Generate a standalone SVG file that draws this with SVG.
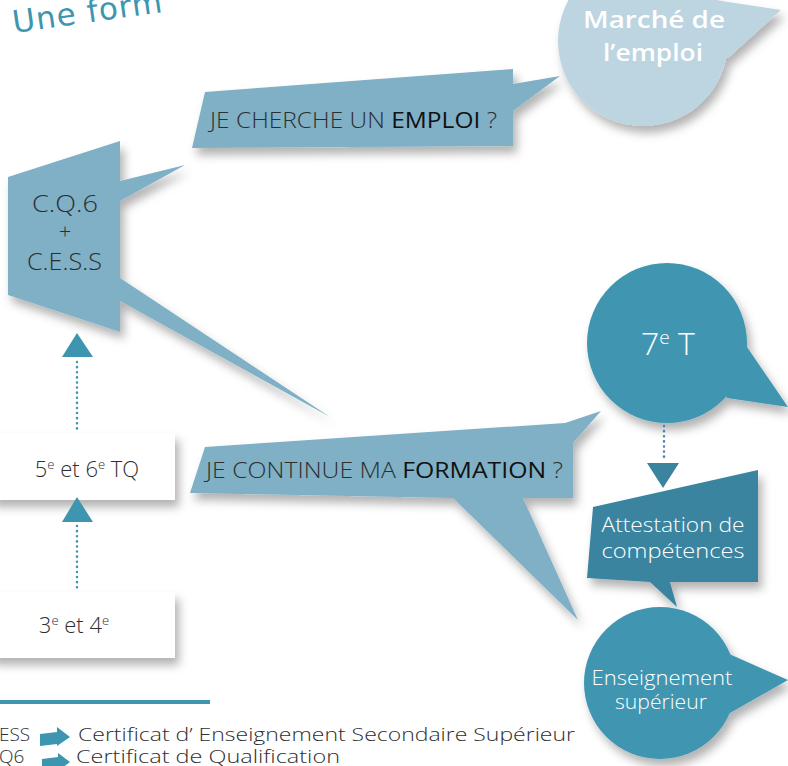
<svg xmlns="http://www.w3.org/2000/svg" width="788" height="766" viewBox="0 0 788 766">
<defs>
<filter id="sh" x="-20%" y="-20%" width="150%" height="160%">
<feDropShadow dx="4" dy="7" stdDeviation="5" flood-color="#000" flood-opacity="0.3"/>
</filter>
<style>
.t{font-family:"Open Sans","Liberation Sans",sans-serif;font-weight:300}
.dk{fill:#2e2e2e}
.wh{fill:#ffffff}
.ban{fill:#7fb0c6}
.teal{fill:#3f96b1}
.att{fill:#3a84a0}
.light{fill:#bdd4e1}
.box{fill:#ffffff}
.dot{stroke-width:2.5;stroke-linecap:round;stroke-dasharray:0.1 5;fill:none}
</style>
</defs>
<rect width="788" height="766" fill="#ffffff"/>

<g id="title">
<text x="14" y="33" transform="rotate(-8 14 33)" font-family="DejaVu Sans, sans-serif" font-size="31" fill="#3d95b0" letter-spacing="1">Une form</text>
</g>

<g id="marche-emploi" filter="url(#sh)">
<circle cx="643" cy="41" r="85" class="light"/>
<polygon points="715,0 781,10 728,58 720,30" class="light"/>
</g>
<g id="marche-emploi-text">
<text x="654" y="28" text-anchor="middle" class="t wh" font-size="24" style="font-weight:600" textLength="142" lengthAdjust="spacingAndGlyphs">Marché de</text>
<text x="653" y="61" text-anchor="middle" class="t wh" font-size="24" style="font-weight:600" textLength="100" lengthAdjust="spacingAndGlyphs">l’emploi</text>
</g>

<g id="emploi-banner">
<polygon points="205,92 513,69 513,84 560,76 513,111 513,146 192,148" class="ban" filter="url(#sh)"/>
<text x="210" y="128" class="t dk" font-size="22" textLength="287" lengthAdjust="spacingAndGlyphs">JE CHERCHE UN <tspan style="font-weight:500" fill="#111">EMPLOI</tspan> ?</text>
</g>

<g id="cq6-cess">
<polygon points="8,177 120,141 120,181 185,165 120,201 120,278 330,417 120,301 120,332 8,295" class="ban" filter="url(#sh)"/>
<text x="32" y="212" class="t dk" font-size="23" textLength="66" lengthAdjust="spacingAndGlyphs">C.Q.6</text>
<text x="65" y="239" text-anchor="middle" class="t dk" font-size="22">+</text>
<text x="27" y="270" class="t dk" font-size="23" textLength="75" lengthAdjust="spacingAndGlyphs">C.E.S.S</text>
</g>

<g id="tq56">
<rect x="-10" y="433" width="185" height="67" class="box" filter="url(#sh)"/>
<text x="87" y="477" text-anchor="middle" class="t dk" font-size="22">5<tspan font-size="13" dy="-8">e</tspan><tspan dy="8"> et 6</tspan><tspan font-size="13" dy="-8">e</tspan><tspan dy="8"> TQ</tspan></text>
</g>

<g id="tq34">
<rect x="-10" y="592" width="185" height="66" class="box" filter="url(#sh)"/>
<text x="74" y="633" text-anchor="middle" class="t dk" font-size="22">3<tspan font-size="13" dy="-8">e</tspan><tspan dy="8"> et 4</tspan><tspan font-size="13" dy="-8">e</tspan></text>
</g>

<g id="formation-banner">
<polygon points="205,447 565,423 601,411 573,443 573,498 523,498 578,620 453,498 190,493" class="ban" filter="url(#sh)"/>
<text x="206" y="478" class="t dk" font-size="22" textLength="357" lengthAdjust="spacingAndGlyphs">JE CONTINUE MA <tspan style="font-weight:500" fill="#111">FORMATION</tspan> ?</text>
</g>

<g id="t7">
<g filter="url(#sh)">
<circle cx="667" cy="343" r="80" class="teal"/>
<polygon points="740,320 747,347 788,407 727,398 720,380" class="teal"/>
</g>
<text x="668" y="355" text-anchor="middle" class="t wh" font-size="32">7<tspan font-size="19" dy="-11">e</tspan><tspan dy="11"> T</tspan></text>
</g>

<g id="attestation">
<polygon points="593,507 758,470 758,582 670,582 677,607 650,582 587,578" class="att" filter="url(#sh)"/>
<text x="673" y="532" text-anchor="middle" class="t wh" font-size="21" textLength="143" lengthAdjust="spacingAndGlyphs">Attestation de</text>
<text x="673" y="558" text-anchor="middle" class="t wh" font-size="21" textLength="143" lengthAdjust="spacingAndGlyphs">compétences</text>
</g>

<g id="superieur">
<g filter="url(#sh)">
<circle cx="660" cy="683" r="76" class="teal"/>
<polygon points="715,640 727,653 788,680 730,713 720,710" class="teal"/>
</g>
<text x="662" y="685" text-anchor="middle" class="t wh" font-size="20" textLength="141" lengthAdjust="spacingAndGlyphs">Enseignement</text>
<text x="661" y="709" text-anchor="middle" class="t wh" font-size="20" textLength="92" lengthAdjust="spacingAndGlyphs">supérieur</text>
</g>

<g id="connectors">
<line x1="77" y1="362" x2="77" y2="432" class="dot" stroke="#3d95b0"/>
<polygon points="62,357 93,357 77,333" fill="#3d95b0"/>
<line x1="77" y1="526" x2="77" y2="592" class="dot" stroke="#3d95b0"/>
<polygon points="62,522 93,522 77,497" fill="#3d95b0"/>
<line x1="664" y1="426" x2="664" y2="461" class="dot" stroke="#4a7fc0"/>
<polygon points="647,463 679,463 663,488" fill="#3a84a0"/>
</g>

<g id="legend">
<rect x="0" y="700" width="210" height="4" fill="#3d95b0"/>
<text x="-1" y="741" class="t dk" font-size="19">ESS</text>
<polygon points="40,734 57,732 57,727 70,737 57,746 57,744 40,746" fill="#3d95b0"/>
<text x="78" y="741" class="t dk" font-size="19" textLength="497" lengthAdjust="spacingAndGlyphs">Certificat d’ Enseignement Secondaire Supérieur</text>
<text x="-1" y="763" class="t dk" font-size="19">Q6</text>
<polygon points="42,759 58,757 58,753 70,762 58,771 58,768 42,770" fill="#3d95b0"/>
<text x="76" y="763" class="t dk" font-size="19" textLength="264" lengthAdjust="spacingAndGlyphs">Certificat de Qualification</text>
</g>
</svg>
